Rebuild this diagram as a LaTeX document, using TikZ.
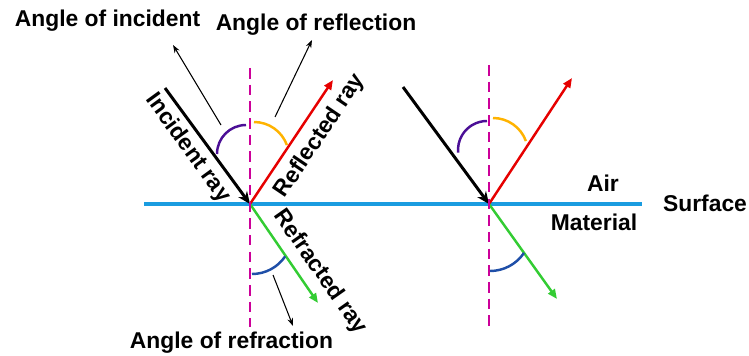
\documentclass[tikz,border=0pt]{standalone}
\usepackage{fontspec}
\setmainfont{Liberation Sans}
\usepackage{tikz}
\usetikzlibrary{arrows.meta}
\definecolor{SurfBlue}{HTML}{1A9CE0}
\definecolor{Magenta}{HTML}{CC0099}
\definecolor{RayRed}{HTML}{E60000}
\definecolor{RayGreen}{HTML}{33CC33}
\definecolor{Indigo}{HTML}{4B0F96}
\definecolor{Amber}{HTML}{FFB300}
\definecolor{ArcBlue}{HTML}{1F4FA8}

\begin{document}
\begin{tikzpicture}[x=0.02cm,y=0.02cm,
t/.style={font=\fontsize{13}{15}\selectfont\bfseries,inner sep=0pt},
nrm/.style={draw=Magenta,line width=1.6pt,dash pattern=on 6pt off 3.5pt},
inc/.style={-{Stealth[length=7pt,width=6pt]},line width=1.7pt},
ray/.style={-{Triangle[length=5.5pt,width=4.5pt]},line width=1.4pt},
ang/.style={line width=1.4pt},
p/.style={-{Stealth[length=4.5pt,width=3.2pt]},line width=0.6pt}]
\useasboundingbox (0,0) rectangle (749,355);
% points
\coordinate (sl) at (144,151); \coordinate (sr) at (642,151);
\coordinate (o1) at (250,151); \coordinate (o2) at (489,151);
\coordinate (nt1) at (250,287); \coordinate (nb1) at (250,28);
\coordinate (nt2) at (489,290); \coordinate (nb2) at (489,28);
\coordinate (i1) at (165,267); \coordinate (r1) at (333,275); \coordinate (f1) at (318,52);
\coordinate (i2) at (403,268); \coordinate (r2) at (572,277); \coordinate (f2) at (557,56);
% surface
\draw[draw=SurfBlue,line width=2.8pt] (sl)--(sr);
% rays
\draw[inc] (i1)--(o1); \draw[ray,RayRed] (o1)--(r1); \draw[ray,RayGreen] (o1)--(f1);
\draw[inc] (i2)--(o2); \draw[ray,RayRed] (o2)--(r2); \draw[ray,RayGreen] (o2)--(f2);
% normals
\draw[nrm] (nt1)--(nb1); \draw[nrm] (nt2)--(nb2);
% angles
\draw[ang,Indigo] (246,230) arc[start angle=90,end angle=180,radius=29];
\draw[ang,Amber] (254,233) arc[start angle=90,end angle=20,radius=35];
\draw[ang,ArcBlue] (252,81) arc[start angle=270,end angle=326,radius=40];
\draw[ang,Indigo] (487,234) arc[start angle=90,end angle=185,radius=29];
\draw[ang,Amber] (493,237) arc[start angle=90,end angle=20,radius=35];
\draw[ang,ArcBlue] (490,84) arc[start angle=270,end angle=326,radius=41];
% labels
\node[t] (li) at (107.5,334) {Angle of incident};
\node[t] (lr) at (316,330) {Angle of reflection};
\node[t] (lf) at (231.5,12) {Angle of refraction};
\node[t] (air) at (603,172) {Air};
\node[t] (srf) at (705,152) {Surface};
\node[t] (mat) at (594,133) {Material};
\node[t,rotate=-54] (ti) at (188,207) {Incident ray};
\node[t,rotate=56] (tr) at (320,219) {Reflected ray};
\node[t,rotate=-55] (tf) at (320,83) {Refracted ray};
% pointers
\coordinate (pi) at (221,230); \coordinate (pr) at (275,238); \coordinate (pf) at (273,80);
\draw[p] (pi)--(173,310);
\draw[p] (pr)--(312,315);
\draw[p] (pf)--(293,29);
\end{tikzpicture}
\end{document}
